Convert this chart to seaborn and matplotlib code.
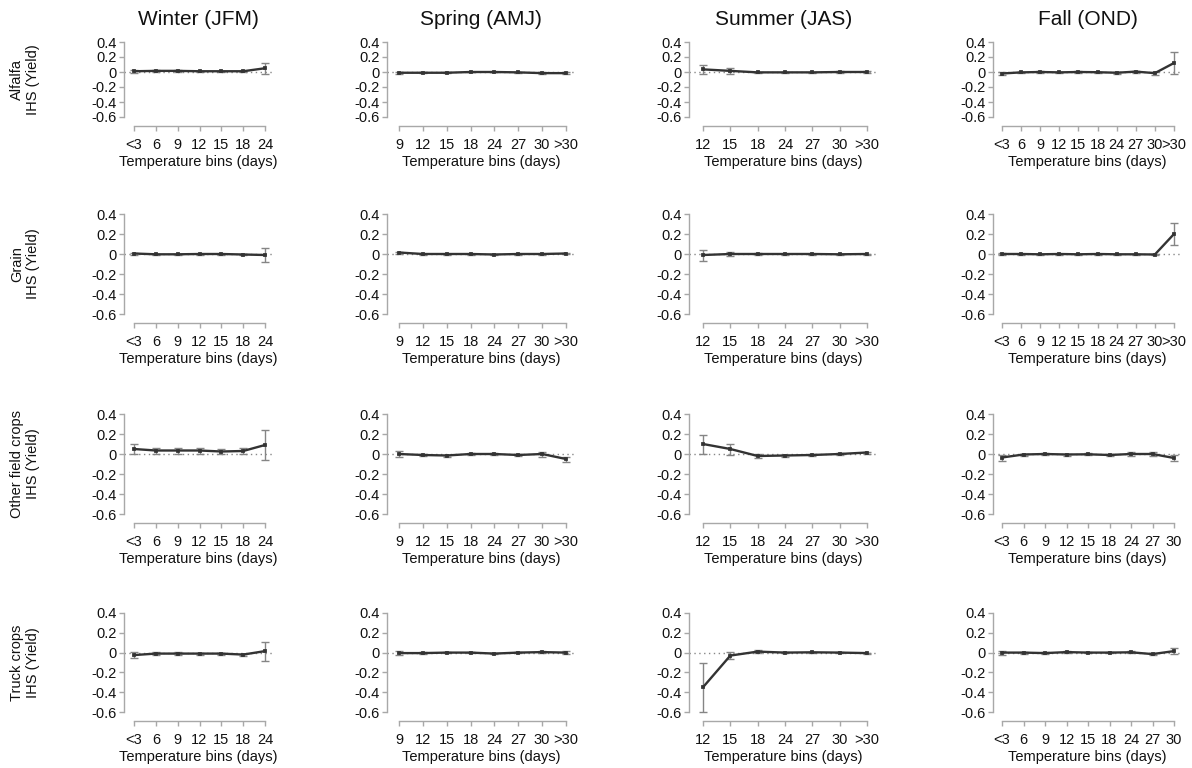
import matplotlib
matplotlib.use("Agg")
import matplotlib.pyplot as plt
import seaborn as sns
import numpy as np

# ---------------- data ----------------
seasons = ["Winter (JFM)", "Spring (AMJ)", "Summer (JAS)", "Fall (OND)"]
crops = ["Alfalfa\nIHS (Yield)", "Grain\nIHS (Yield)", "Other field crops\nIHS (Yield)", "Truck crops\nIHS (Yield)"]

winter_bins = ["<3", "6", "9", "12", "15", "18", "24"]
spring_bins = ["9", "12", "15", "18", "24", "27", "30", ">30"]
summer_bins = ["12", "15", "18", "24", "27", "30", ">30"]
fall_bins_long = ["<3", "6", "9", "12", "15", "18", "24", "27", "30", ">30"]
fall_bins_short = ["<3", "6", "9", "12", "15", "18", "24", "27", "30"]

y_ticks = [0.4, 0.2, 0, -0.2, -0.4, -0.6]
y_tick_labels = ["0.4", "0.2", "0", "-0.2", "-0.4", "-0.6"]

# Alfalfa
alfalfa_winter = [0.01, 0.015, 0.015, 0.01, 0.01, 0.01, 0.05]
alfalfa_winter_err = [0.02, 0.01, 0.01, 0.01, 0.01, 0.01, 0.075]
alfalfa_spring = [-0.01, -0.01, -0.01, 0.0, 0.0, -0.005, -0.015, -0.015]
alfalfa_spring_err = [0.015, 0.008, 0.008, 0.005, 0.005, 0.008, 0.01, 0.015]
alfalfa_summer = [0.035, 0.015, -0.005, -0.005, -0.005, 0.0, 0.0]
alfalfa_summer_err = [0.065, 0.04, 0.01, 0.008, 0.008, 0.008, 0.008]
alfalfa_fall = [-0.02, -0.005, 0.0, -0.005, 0.0, -0.003, -0.01, 0.005, -0.015, 0.12]
alfalfa_fall_err = [0.015, 0.008, 0.008, 0.008, 0.008, 0.008, 0.01, 0.012, 0.02, 0.145]

# Grain
grain_winter = [0.005, -0.003, -0.003, 0.0, 0.0, -0.005, -0.01]
grain_winter_err = [0.01, 0.005, 0.005, 0.005, 0.005, 0.008, 0.07]
grain_spring = [0.015, 0.0, 0.0, 0.0, -0.005, 0.0, 0.0, 0.005]
grain_spring_err = [0.01, 0.005, 0.005, 0.005, 0.005, 0.005, 0.005, 0.008]
grain_summer = [-0.01, 0.0, 0.0, 0.0, 0.0, -0.003, 0.0]
grain_summer_err = [0.055, 0.02, 0.01, 0.005, 0.005, 0.005, 0.005]
grain_fall = [0.0, 0.0, -0.003, 0.0, -0.003, 0.0, -0.003, -0.003, -0.005, 0.2]
grain_fall_err = [0.008, 0.005, 0.005, 0.005, 0.005, 0.005, 0.005, 0.005, 0.008, 0.105]

# Other field crops
other_winter = [0.05, 0.035, 0.035, 0.035, 0.025, 0.03, 0.09]
other_winter_err = [0.05, 0.03, 0.03, 0.03, 0.025, 0.03, 0.15]
other_spring = [0.0, -0.01, -0.015, 0.0, 0.0, -0.01, 0.0, -0.05]
other_spring_err = [0.03, 0.01, 0.01, 0.01, 0.01, 0.01, 0.025, 0.025]
other_summer = [0.1, 0.05, -0.02, -0.015, -0.01, 0.0, 0.015]
other_summer_err = [0.095, 0.055, 0.02, 0.01, 0.008, 0.008, 0.01]
other_fall = [-0.035, -0.005, 0.0, -0.005, -0.003, -0.01, 0.0, 0.0, -0.04]
other_fall_err = [0.03, 0.01, 0.01, 0.01, 0.01, 0.01, 0.02, 0.02, 0.03]

# Truck crops
truck_winter = [-0.025, -0.01, -0.01, -0.01, -0.01, -0.02, 0.015]
truck_winter_err = [0.03, 0.015, 0.015, 0.01, 0.01, 0.01, 0.095]
truck_spring = [-0.005, -0.005, 0.0, 0.0, -0.01, 0.0, 0.005, 0.0]
truck_spring_err = [0.02, 0.01, 0.005, 0.005, 0.005, 0.005, 0.008, 0.015]
truck_summer = [-0.35, -0.03, 0.01, 0.0, 0.003, 0.0, -0.005]
truck_summer_err = [0.25, 0.037, 0.015, 0.005, 0.005, 0.005, 0.005]
truck_fall = [0.0, 0.0, -0.005, 0.005, 0.0, 0.0, 0.003, -0.015, 0.015]
truck_fall_err = [0.02, 0.01, 0.008, 0.008, 0.008, 0.008, 0.01, 0.01, 0.03]

panels = [
    [(winter_bins, alfalfa_winter, alfalfa_winter_err), (spring_bins, alfalfa_spring, alfalfa_spring_err),
     (summer_bins, alfalfa_summer, alfalfa_summer_err), (fall_bins_long, alfalfa_fall, alfalfa_fall_err)],
    [(winter_bins, grain_winter, grain_winter_err), (spring_bins, grain_spring, grain_spring_err),
     (summer_bins, grain_summer, grain_summer_err), (fall_bins_long, grain_fall, grain_fall_err)],
    [(winter_bins, other_winter, other_winter_err), (spring_bins, other_spring, other_spring_err),
     (summer_bins, other_summer, other_summer_err), (fall_bins_short, other_fall, other_fall_err)],
    [(winter_bins, truck_winter, truck_winter_err), (spring_bins, truck_spring, truck_spring_err),
     (summer_bins, truck_summer, truck_summer_err), (fall_bins_short, truck_fall, truck_fall_err)],
]

# ---------------- layout (pixels) ----------------
W, H = 1192, 768
col_px = [(124, 273, 10, 8), (387, 575, 12, 9), (689, 878, 14, 11), (993, 1182, 9, 8)]  # left, right, first-cat offset, last-cat margin
row_px = [(42, 117), (214, 314), (414, 514), (613, 712)]

sns.set_theme(style="ticks")
plt.rcParams["font.family"] = ["Liberation Sans", "DejaVu Sans"]

fig = plt.figure(figsize=(W / 100, H / 100), dpi=100)

spine_col = "#a8a8a8"
line_col = "#333333"
err_col = "#858585"

for r in range(4):
    top, bot = row_px[r]
    for c in range(4):
        left, right, off_l, off_r = col_px[c]
        ax = fig.add_axes([left / W, 1 - bot / H, (right - left) / W, (bot - top) / H])
        cats, vals, errs = panels[r][c]
        n = len(cats)
        xs = np.arange(n)
        step = (right - left - off_l - off_r) / (n - 1)
        ax.axhline(0, color="#888888", lw=1, ls=(0, (1, 2.5)), zorder=1)
        ax.errorbar(xs, vals, yerr=errs, fmt="none", ecolor=err_col, elinewidth=1.0,
                    capsize=2.8, capthick=1.0, zorder=2, clip_on=False)
        sns.pointplot(x=cats, y=vals, order=cats, ax=ax, color=line_col, errorbar=None,
                      markers="s", markersize=2.0, linewidth=1.7, zorder=3)
        for coll in ax.collections:
            coll.set_clip_on(False)
        for ln in ax.lines:
            ln.set_clip_on(False)
        ax.set_xlim(-off_l / step, n - 1 + off_r / step)
        ax.set_ylim(-0.6, 0.4)
        ax.set_yticks(y_ticks)
        ax.set_yticklabels(y_tick_labels)
        ax.set_xticks(xs)
        ax.set_xticklabels(cats)
        for s in ["top", "right"]:
            ax.spines[s].set_visible(False)
        for s in ["left", "bottom"]:
            ax.spines[s].set_visible(True)
            ax.spines[s].set_color(spine_col)
            ax.spines[s].set_linewidth(1.0)
        ax.spines["bottom"].set_position(("outward", 6.5))
        ax.spines["bottom"].set_bounds(0, n - 1)
        ax.spines["left"].set_bounds(-0.6, 0.4)
        ax.tick_params(axis="both", which="both", direction="out", length=3.5, width=1.0,
                       color=spine_col, labelsize=10.5, labelcolor="#111111",
                       bottom=True, left=True, top=False, right=False)
        ax.tick_params(axis="y", pad=1.5)
        ax.tick_params(axis="x", pad=5.0)
        ax.set_xlabel("Temperature bins (days)", fontsize=10.5, color="#111111", labelpad=2.5)
        ax.set_ylabel("")
        ax.set_facecolor("none")
        ax.grid(False)
        if r == 0:
            ax.set_title(seasons[c], fontsize=15, color="#111111", pad=12.5)
    fig.text(25 / W, 1 - ((top + bot) / 2) / H, crops[r], rotation=90, ha="center", va="center",
             multialignment="center", fontsize=10.5, color="#111111")

fig.savefig("out.png", dpi=100, facecolor="white")
